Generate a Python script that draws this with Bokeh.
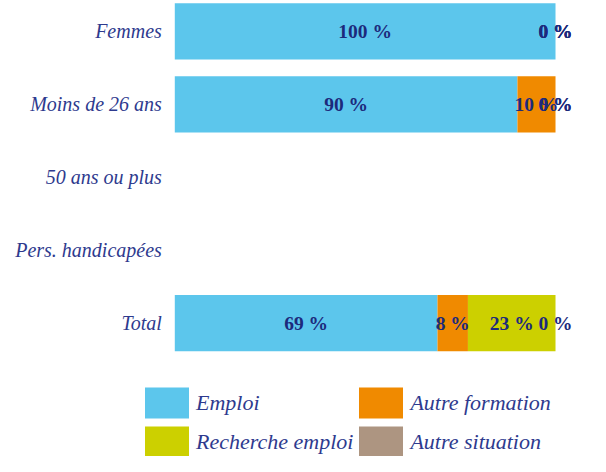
import math
from bokeh.plotting import figure
from bokeh.models import Range1d, ColumnDataSource, Legend, LegendItem
from bokeh.core.properties import value
from bokeh.embed import file_html
from bokeh.resources import INLINE

nan = float("nan")
categories = ["Femmes", "Moins de 26 ans", "50 ans ou plus", "Pers. handicapées", "Total"]
series_names = ["Emploi", "Autre formation", "Recherche emploi", "Autre situation"]
emploi = [100, 90, nan, nan, 69]
autre_formation = [0, 10, nan, nan, 8]
recherche_emploi = [0, 0, nan, nan, 23]
autre_situation = [0, 0, nan, nan, 0]
series_values = [emploi, autre_formation, recherche_emploi, autre_situation]
colors = ["#5CC6EC", "#F08A00", "#CCD000", "#AD9581"]

LABEL_COLOR = "#2E3A8E"
VALUE_COLOR = "#1C2A7C"
FONT = "Liberation Serif"

n = len(categories)
ypos = [n - 1 - i for i in range(n)]

p = figure(width=590, height=456, output_backend="svg", toolbar_location=None,
           x_axis_type=None, y_axis_type=None,
           x_range=Range1d(-45.78, 109.19), y_range=Range1d(-1.829, 4.424),
           min_border=0)
p.outline_line_color = None
p.xgrid.visible = False
p.ygrid.visible = False
p.background_fill_color = None

left = [0.0] * n
renderers = []
lab_x, lab_y, lab_t = [], [], []
for name, vals, col in zip(series_names, series_values, colors):
    ys, l, r = [], [], []
    for i, v in enumerate(vals):
        if math.isnan(v):
            continue
        ys.append(ypos[i])
        l.append(left[i])
        r.append(left[i] + v)
        lab_x.append(left[i] + v / 2)
        lab_y.append(ypos[i])
        lab_t.append(f"{v:g} %")
        left[i] += v
    src = ColumnDataSource(dict(y=ys, left=l, right=r))
    rr = p.hbar(y="y", left="left", right="right", height=0.77, source=src,
                fill_color=col, line_color=None)
    renderers.append((name, rr))

# value labels
p.text(x=lab_x, y=lab_y, text=lab_t, text_font=value(FONT), text_font_size="19.5px",
       text_font_style="bold", text_color=VALUE_COLOR, text_align="center",
       text_baseline="middle")

# category labels
p.text(x=[0] * n, y=ypos, text=categories, text_font=value(FONT), text_font_size="20px",
       text_font_style="italic", text_color=LABEL_COLOR, text_align="right",
       text_baseline="middle", x_offset=-13)

legend = Legend(items=[LegendItem(label=nm, renderers=[r]) for nm, r in renderers],
                orientation="horizontal", ncols=2, location=(139, -5),
                glyph_width=55, glyph_height=39, spacing=-3, label_standoff=2,
                label_width=155, padding=0, margin=0, border_line_color=None,
                background_fill_alpha=0,
                label_text_font=FONT, label_text_font_size="22px",
                label_text_font_style="italic", label_text_color=LABEL_COLOR)
p.add_layout(legend)

open("out.html", "w").write(file_html(p, INLINE))
